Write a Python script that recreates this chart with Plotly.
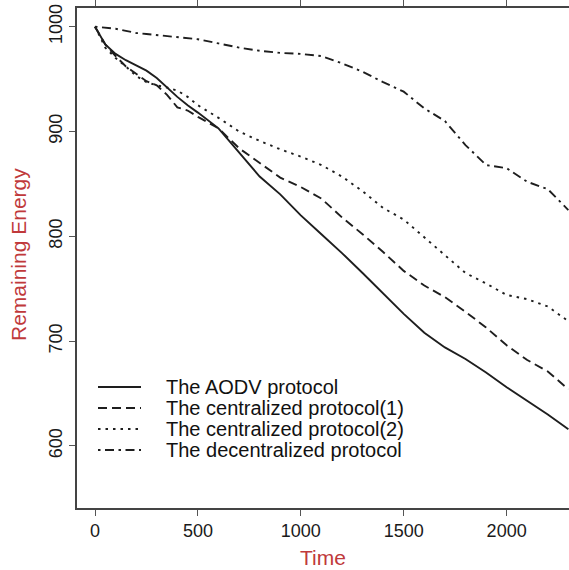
import plotly.graph_objects as go

time = [0, 50, 100, 150, 200, 250, 300, 350, 400, 450, 500,
        600, 700, 800, 900, 1000, 1100, 1200, 1300, 1400, 1500,
        1600, 1700, 1800, 1900, 2000, 2100, 2200, 2300]

aodv = [1000, 983, 974, 968, 963, 958, 951, 942, 933, 925, 918,
        903, 880, 857, 840, 820, 802, 784, 765, 745, 726,
        708, 694, 683, 670, 656, 643, 630, 616]
central1 = [1000, 983, 972, 962, 955, 948, 944, 935, 923, 920, 914,
            903, 884, 870, 856, 847, 836, 818, 802, 785, 767,
            753, 742, 728, 713, 696, 682, 671, 654]
central2 = [1000, 980, 970, 962, 953, 947, 944, 942, 939, 933, 925,
            913, 900, 891, 883, 876, 868, 857, 843, 827, 816,
            799, 782, 765, 755, 744, 740, 733, 719]
decentral = [1000, 999, 998, 996, 994, 993, 992, 991, 990, 989, 988,
             984, 980, 977, 975, 974, 972, 965, 957, 947, 938,
             922, 910, 887, 868, 865, 852, 845, 825]

names = ["The AODV protocol", "The centralized protocol(1)",
         "The centralized protocol(2)", "The decentralized protocol"]
series = [aodv, central1, central2, decentral]
dashes = ["solid", "9px,5px", "2.5px,5px", "2.5px,4.5px,9px,4.5px"]

x_ticks = [0, 500, 1000, 1500, 2000]
y_ticks = [600, 700, 800, 900, 1000]

LINE = "#1e1e1e"
RED = "#c0393b"
FONT = "Liberation Sans, Arial, Helvetica, sans-serif"

fig = go.Figure()
for name, vals, d in zip(names, series, dashes):
    fig.add_trace(go.Scatter(x=time, y=vals, mode="lines", name=name,
                             line=dict(color=LINE, width=1.9, dash=d),
                             showlegend=False))

W, H = 569, 570
ml, mr, mt, mb = 77, 0, 8, 62

fig.update_layout(
    width=W, height=H,
    margin=dict(l=ml, r=mr, t=mt, b=mb),
    paper_bgcolor="white", plot_bgcolor="white",
    font=dict(family=FONT, color="#222222"),
    xaxis=dict(range=[-87.5, 2303], tickvals=x_ticks, showgrid=False, zeroline=False,
               showline=True, linecolor="#444444", linewidth=1.5, mirror="ticks",
               ticks="outside", ticklen=6, tickcolor="#555555", tickwidth=1,
               tickfont=dict(size=18, family=FONT, color="#1a1a1a")),
    yaxis=dict(range=[540.8, 1017.8], tickvals=y_ticks, showgrid=False, zeroline=False,
               showline=True, linecolor="#444444", linewidth=1.5,
               ticks="outside", ticklen=6, tickcolor="#555555", tickwidth=1,
               tickangle=-90,
               tickfont=dict(size=18, family=FONT, color="#1a1a1a")),
)

# axis titles
fig.add_annotation(text="Time", xref="paper", yref="paper", x=0.5, y=-(557 - 508) / 500,
                   showarrow=False, font=dict(size=21, color=RED, family=FONT),
                   xanchor="center", yanchor="middle")
fig.add_annotation(text="Remaining Energy", xref="paper", yref="paper",
                   x=-(77 - 18) / 492, y=(508 - 255) / 500, textangle=-90,
                   showarrow=False, font=dict(size=21, color=RED, family=FONT),
                   xanchor="center", yanchor="middle")

# custom legend
def px_x(px):
    return (px - ml) / (W - ml - mr)

def px_y(py):
    return (H - mb - py) / (H - mt - mb)

rows = [387, 408, 429, 450]
for name, d, ry in zip(names, dashes, rows):
    fig.add_shape(type="line", xref="paper", yref="paper",
                  x0=px_x(98), x1=px_x(141), y0=px_y(ry), y1=px_y(ry),
                  line=dict(color=LINE, width=1.9, dash=d))
    fig.add_annotation(text=name, xref="paper", yref="paper", x=px_x(164), y=px_y(ry),
                       showarrow=False, xanchor="left", yanchor="middle",
                       font=dict(size=20, color="#111111", family=FONT))

fig.write_html("out.html")
